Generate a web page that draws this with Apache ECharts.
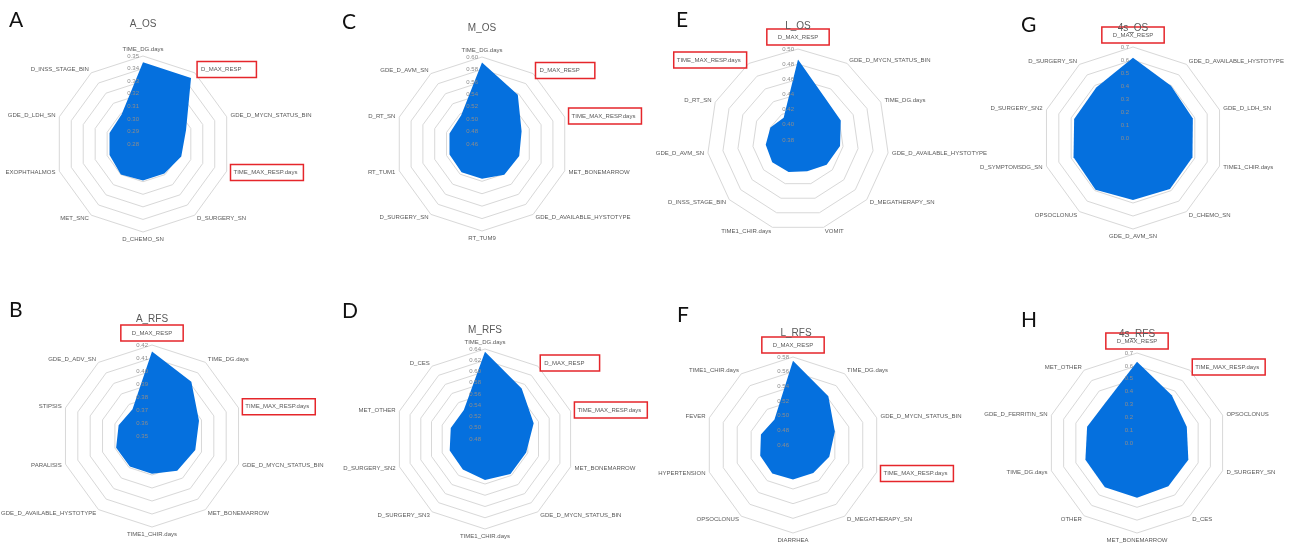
<!DOCTYPE html>
<html>
<head>
<meta charset="utf-8">
<script src="https://cdn.jsdelivr.net/npm/echarts@6/dist/echarts.min.js"></script>
<style>
  html, body { margin: 0; padding: 0; background: #ffffff; }
  #chart { width: 1314px; height: 545px; }
</style>
</head>
<body>
<div id="chart"></div>
<script>
// Feature-importance radars. Names and values are listed clockwise from the top axis.

// A — A_OS
const aOsNames = ['TIME_DG.days', 'D_MAX_RESP', 'GDE_D_MYCN_STATUS_BIN', 'TIME_MAX_RESP.days', 'D_SURGERY_SN', 'D_CHEMO_SN', 'MET_SNC', 'EXOPHTHALMOS', 'GDE_D_LDH_SN', 'D_INSS_STAGE_BIN'];
const aOsValues = [0.345, 0.345, 0.316, 0.312, 0.309, 0.309, 0.310, 0.308, 0.308, 0.309];
const aOsTicks = ['0.28', '0.29', '0.30', '0.31', '0.32', '0.33', '0.34', '0.35'];

// C — M_OS
const mOsNames = ['TIME_DG.days', 'D_MAX_RESP', 'TIME_MAX_RESP.days', 'MET_BONEMARROW', 'GDE_D_AVAILABLE_HYSTOTYPE', 'RT_TUM9', 'D_SURGERY_SN', 'RT_TUM1', 'D_RT_SN', 'GDE_D_AVM_SN'];
const mOsValues = [0.591, 0.558, 0.527, 0.523, 0.521, 0.516, 0.516, 0.515, 0.515, 0.517];
const mOsTicks = ['0.46', '0.48', '0.50', '0.52', '0.54', '0.56', '0.58', '0.60'];

// E — L_OS
const lOsNames = ['D_MAX_RESP', 'GDE_D_MYCN_STATUS_BIN', 'TIME_DG.days', 'GDE_D_AVAILABLE_HYSTOTYPE', 'D_MEGATHERAPY_SN', 'VOMIT', 'TIME1_CHIR.days', 'D_INSS_STAGE_BIN', 'GDE_D_AVM_SN', 'D_RT_SN', 'TIME_MAX_RESP.days'];
const lOsValues = [0.486, 0.446, 0.442, 0.436, 0.430, 0.423, 0.424, 0.425, 0.423, 0.420, 0.415];
const lOsTicks = ['0.38', '0.40', '0.42', '0.44', '0.46', '0.48', '0.50'];

// G — 4s_OS
const s4OsNames = ['D_MAX_RESP', 'GDE_D_AVAILABLE_HYSTOTYPE', 'GDE_D_LDH_SN', 'TIME1_CHIR.days', 'D_CHEMO_SN', 'GDE_D_AVM_SN', 'OPSOCLONUS', 'D_SYMPTOMSDG_SN', 'D_SURGERY_SN2', 'D_SURGERY_SN'];
const s4OsValues = [0.618, 0.497, 0.484, 0.481, 0.484, 0.477, 0.491, 0.481, 0.476, 0.481];
const s4OsTicks = ['0.0', '0.1', '0.2', '0.3', '0.4', '0.5', '0.6', '0.7'];

// B — A_RFS
const aRfsNames = ['D_MAX_RESP', 'TIME_DG.days', 'TIME_MAX_RESP.days', 'GDE_D_MYCN_STATUS_BIN', 'MET_BONEMARROW', 'TIME1_CHIR.days', 'GDE_D_AVAILABLE_HYSTOTYPE', 'PARALISIS', 'STIPSIS', 'GDE_D_ADV_SN'];
const aRfsValues = [0.415, 0.4015, 0.388, 0.385, 0.383, 0.379, 0.379, 0.379, 0.377, 0.3755];
const aRfsTicks = ['0.35', '0.36', '0.37', '0.38', '0.39', '0.40', '0.41', '0.42'];

// D — M_RFS
const mRfsNames = ['TIME_DG.days', 'D_MAX_RESP', 'TIME_MAX_RESP.days', 'MET_BONEMARROW', 'GDE_D_MYCN_STATUS_BIN', 'TIME1_CHIR.days', 'D_SURGERY_SN3', 'D_SURGERY_SN2', 'MET_OTHER', 'D_CES'];
const mRfsValues = [0.635, 0.591, 0.571, 0.557, 0.557, 0.553, 0.547, 0.546, 0.544, 0.544];
const mRfsTicks = ['0.48', '0.50', '0.52', '0.54', '0.56', '0.58', '0.60', '0.62', '0.64'];

// F — L_RFS
const lRfsNames = ['D_MAX_RESP', 'TIME_DG.days', 'GDE_D_MYCN_STATUS_BIN', 'TIME_MAX_RESP.days', 'D_MEGATHERAPY_SN', 'DIARRHEA', 'OPSOCLONUS', 'HYPERTENSION', 'FEVER', 'TIME1_CHIR.days'];
const lRfsValues = [0.575, 0.542, 0.520, 0.512, 0.507, 0.507, 0.508, 0.507, 0.506, 0.503];
const lRfsTicks = ['0.46', '0.48', '0.50', '0.52', '0.54', '0.56', '0.58'];

// H — 4s_RFS
const s4RfsNames = ['D_MAX_RESP', 'TIME_MAX_RESP.days', 'OPSOCLONUS', 'D_SURGERY_SN', 'D_CES', 'MET_BONEMARROW', 'OTHER', 'TIME_DG.days', 'GDE_D_FERRITIN_SN', 'MET_OTHER'];
const s4RfsValues = [0.632, 0.460, 0.407, 0.420, 0.415, 0.425, 0.425, 0.422, 0.408, 0.402];
const s4RfsTicks = ['0.0', '0.1', '0.2', '0.3', '0.4', '0.5', '0.6', '0.7'];

// Panel placement (pixels)
const panels = [
  { letter: 'A', title: 'A_OS',   names: aOsNames,   values: aOsValues,   ticks: aOsTicks,   center: [143, 144],  radius: 88, titleXY: [143, 25],  letterXY: [9, 10] },
  { letter: 'C', title: 'M_OS',   names: mOsNames,   values: mOsValues,   ticks: mOsTicks,   center: [482, 144],  radius: 87, titleXY: [482, 29],  letterXY: [342, 12] },
  { letter: 'E', title: 'L_OS',   names: lOsNames,   values: lOsValues,   ticks: lOsTicks,   center: [798, 140],  radius: 91, titleXY: [798, 27],  letterXY: [676, 10] },
  { letter: 'G', title: '4s_OS',  names: s4OsNames,  values: s4OsValues,  ticks: s4OsTicks,  center: [1133, 138], radius: 91, titleXY: [1133, 29], letterXY: [1021, 15] },
  { letter: 'B', title: 'A_RFS',  names: aRfsNames,  values: aRfsValues,  ticks: aRfsTicks,  center: [152, 436],  radius: 91, titleXY: [152, 320], letterXY: [9, 300] },
  { letter: 'D', title: 'M_RFS',  names: mRfsNames,  values: mRfsValues,  ticks: mRfsTicks,  center: [485, 439],  radius: 90, titleXY: [485, 331], letterXY: [342, 301] },
  { letter: 'F', title: 'L_RFS',  names: lRfsNames,  values: lRfsValues,  ticks: lRfsTicks,  center: [793, 445],  radius: 88, titleXY: [796, 334], letterXY: [677, 305] },
  { letter: 'H', title: '4s_RFS', names: s4RfsNames, values: s4RfsValues, ticks: s4RfsTicks, center: [1137, 443], radius: 90, titleXY: [1137, 335], letterXY: [1021, 310] }
];

// ECharts lays indicators out counter-clockwise from the top; the lists above run clockwise.
function toRadarOrder(list) {
  return [list[0]].concat(list.slice(1).reverse());
}

const FILL = '#0570de';
const TEXT_FONT = 'Liberation Sans, Arial, sans-serif';
const FRAME = { borderColor: '#e5262b', borderWidth: 1.5, fontSize: 6, color: '#595959', fontFamily: TEXT_FONT };

const radars = [];
const series = [];
const titles = [];

panels.forEach(function (p, i) {
  const tmin = parseFloat(p.ticks[0]);
  const tmax = parseFloat(p.ticks[p.ticks.length - 1]);
  const split = p.ticks.length - 1;
  const step = (tmax - tmin) / split;
  const names = toRadarOrder(p.names);
  // D_MAX_RESP either sits on the top axis (centred frame) or on the upper-right one
  const maxRespOnTop = names[0] === 'D_MAX_RESP';

  // grid rings and indicator names, beneath the filled area
  radars.push({
    center: p.center,
    radius: p.radius,
    shape: 'polygon',
    splitNumber: split,
    nameGap: 4,
    z: 0,
    indicator: names.map(function (n) {
      return { name: n, min: tmin, max: tmax };
    }),
    axisName: {
      color: '#595959',
      fontSize: 6,
      fontFamily: TEXT_FONT,
      formatter: function (name) {
        if (name === 'D_MAX_RESP') return (maxRespOnTop ? '{boxTop|' : '{boxSide|') + name + '}';
        if (name === 'TIME_MAX_RESP.days') return '{boxLong|' + name + '}';
        return name;
      },
      rich: {
        boxTop: Object.assign({ padding: [5, 11, 5, 11] }, FRAME),
        boxSide: Object.assign({ padding: [5, 15, 5, 4] }, FRAME),
        boxLong: Object.assign({ padding: [5, 6, 5, 3] }, FRAME)
      }
    },
    axisLine: { show: false },
    axisTick: { show: false },
    axisLabel: { show: false },
    splitLine: { lineStyle: { color: '#d8d8d8', width: 1 } },
    splitArea: { show: false }
  });

  // same axes again, carrying only the scale labels on the top axis, drawn above the filled area
  radars.push({
    center: p.center,
    radius: p.radius,
    shape: 'polygon',
    splitNumber: split,
    z: 5,
    indicator: names.map(function (n, k) {
      return { name: '', min: tmin, max: tmax, axisLabel: { show: k === 0 } };
    }),
    axisName: { show: false },
    axisLine: { show: false },
    axisTick: { show: false },
    splitLine: { show: false },
    splitArea: { show: false },
    axisLabel: {
      show: false,
      fontSize: 6,
      color: '#8c8c8c',
      fontFamily: TEXT_FONT,
      margin: 4,
      formatter: function (v) {
        const idx = Math.round((v - tmin) / step);
        return p.ticks[idx] !== undefined ? p.ticks[idx] : '';
      }
    }
  });

  series.push({
    type: 'radar',
    radarIndex: 2 * i,
    symbol: 'none',
    silent: true,
    lineStyle: { width: 0, color: FILL },
    areaStyle: { color: FILL, opacity: 1 },
    data: [{ value: toRadarOrder(p.values), name: p.title }]
  });

  titles.push({
    text: p.title,
    left: p.titleXY[0],
    top: p.titleXY[1] - 6,
    textAlign: 'center',
    padding: 0,
    textStyle: { fontSize: 10, color: '#595959', fontWeight: 'normal', fontFamily: TEXT_FONT }
  });
  titles.push({
    text: p.letter,
    left: p.letterXY[0],
    top: p.letterXY[1],
    padding: 0,
    textStyle: { fontSize: 21, color: '#111111', fontWeight: 'normal', fontFamily: 'Lato, Open Sans, sans-serif' }
  });
});

const chart = echarts.init(document.getElementById('chart'), null, { renderer: 'canvas' });
chart.setOption({
  backgroundColor: '#ffffff',
  animation: false,
  title: titles,
  radar: radars,
  series: series
});
</script>
</body>
</html>
